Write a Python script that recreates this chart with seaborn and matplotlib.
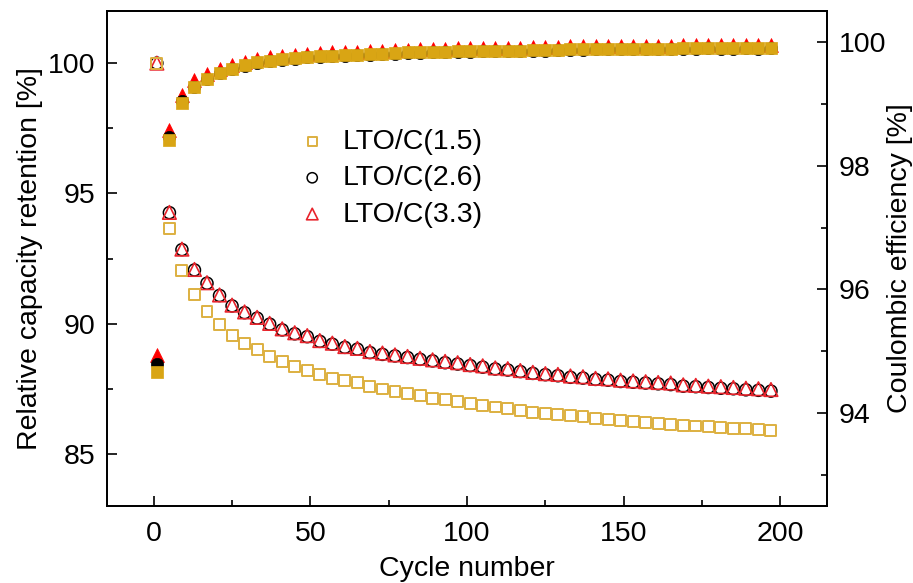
import numpy as np
import pandas as pd
import matplotlib
matplotlib.use("Agg")
import matplotlib.pyplot as plt
import seaborn as sns

# ---------------- data ----------------
cycles = list(range(1, 198, 4))  # 50 cycles: 1, 5, ..., 197

labels = ["LTO/C(1.5)", "LTO/C(2.6)", "LTO/C(3.3)"]

ret_15 = [100.0, 93.66, 92.03, 91.12, 90.48, 89.97, 89.56, 89.24, 88.99, 88.73,
          88.54, 88.35, 88.19, 88.03, 87.88, 87.82, 87.74, 87.57, 87.49, 87.40,
          87.32, 87.23, 87.14, 87.07, 87.00, 86.92, 86.85, 86.80, 86.74, 86.68,
          86.60, 86.56, 86.52, 86.46, 86.42, 86.36, 86.33, 86.29, 86.26, 86.22,
          86.16, 86.14, 86.09, 86.07, 86.04, 86.02, 85.99, 85.96, 85.92, 85.89]

ret_26 = [100.0, 94.26, 92.84, 92.06, 91.55, 91.08, 90.68, 90.42, 90.21, 89.98,
          89.76, 89.61, 89.50, 89.32, 89.21, 89.09, 89.02, 88.89, 88.82, 88.76,
          88.70, 88.63, 88.57, 88.50, 88.45, 88.39, 88.33, 88.26, 88.22, 88.16,
          88.09, 88.04, 88.00, 87.94, 87.91, 87.86, 87.83, 87.78, 87.75, 87.72,
          87.69, 87.66, 87.60, 87.58, 87.55, 87.52, 87.50, 87.46, 87.44, 87.41]

ret_33 = [100.0, 94.27, 92.86, 92.08, 91.57, 91.10, 90.71, 90.45, 90.24, 90.01,
          89.80, 89.65, 89.54, 89.35, 89.25, 89.12, 89.05, 88.93, 88.87, 88.80,
          88.74, 88.67, 88.61, 88.55, 88.50, 88.43, 88.38, 88.30, 88.27, 88.20,
          88.13, 88.08, 88.05, 87.99, 87.96, 87.90, 87.88, 87.83, 87.80, 87.77,
          87.74, 87.72, 87.65, 87.63, 87.60, 87.58, 87.55, 87.52, 87.50, 87.47]

ce_15 = [94.67, 98.42, 99.01, 99.27, 99.40, 99.50, 99.57, 99.62, 99.67, 99.70,
         99.72, 99.74, 99.76, 99.77, 99.78, 99.79, 99.79, 99.80, 99.81, 99.82,
         99.83, 99.83, 99.84, 99.84, 99.85, 99.85, 99.85, 99.86, 99.86, 99.86,
         99.87, 99.87, 99.87, 99.88, 99.88, 99.88, 99.88, 99.89, 99.89, 99.89,
         99.89, 99.89, 99.90, 99.90, 99.90, 99.90, 99.90, 99.90, 99.90, 99.90]

ce_26 = [94.80, 98.47, 99.04, 99.28, 99.40, 99.50, 99.56, 99.61, 99.66, 99.69,
         99.71, 99.73, 99.75, 99.76, 99.77, 99.78, 99.79, 99.79, 99.80, 99.81,
         99.82, 99.82, 99.83, 99.84, 99.84, 99.84, 99.85, 99.85, 99.85, 99.86,
         99.86, 99.86, 99.87, 99.87, 99.87, 99.88, 99.88, 99.88, 99.88, 99.89,
         99.89, 99.89, 99.89, 99.89, 99.90, 99.89, 99.89, 99.90, 99.89, 99.90]

ce_33 = [94.94, 98.58, 99.14, 99.39, 99.49, 99.57, 99.63, 99.68, 99.72, 99.75,
         99.77, 99.79, 99.81, 99.82, 99.83, 99.84, 99.84, 99.85, 99.86, 99.87,
         99.87, 99.88, 99.89, 99.89, 99.90, 99.90, 99.90, 99.91, 99.91, 99.91,
         99.92, 99.92, 99.92, 99.93, 99.93, 99.93, 99.93, 99.94, 99.94, 99.94,
         99.94, 99.94, 99.95, 99.95, 99.95, 99.95, 99.95, 99.95, 99.95, 99.95]

x_ticks = [0, 50, 100, 150, 200]
left_ticks = [85, 90, 95, 100]
right_ticks = [94, 96, 98, 100]

# ---------------- style ----------------
sns.set_theme(style="ticks")
plt.rcParams["font.family"] = ["Liberation Sans", "DejaVu Sans"]
plt.rcParams["text.color"] = "black"
plt.rcParams["axes.labelcolor"] = "black"
plt.rcParams["xtick.color"] = "black"
plt.rcParams["ytick.color"] = "black"
FS = 20.5

gold_edge = "#DDB040"
gold_fill = "#D9A514"
red_edge = "#E8232B"
red_fill = "#FF0000"
black = "#000000"

fig = plt.figure(figsize=(9.13, 5.83), dpi=100)
ax = fig.add_axes([0.1169, 0.1321, 0.7893, 0.849])
ax2 = ax.twinx()

df_ret = pd.DataFrame({"cycle": cycles, "r15": ret_15, "r26": ret_26, "r33": ret_33})
df_ce = pd.DataFrame({"cycle": cycles, "c15": ce_15, "c26": ce_26, "c33": ce_33})

# capacity retention (hollow markers, left axis)
sns.scatterplot(data=df_ret, x="cycle", y="r26", ax=ax, marker="o", s=75,
                facecolors="none", edgecolor=black, linewidth=1.1, zorder=3)
sns.scatterplot(data=df_ret, x="cycle", y="r33", ax=ax, marker="^", s=95,
                facecolors="none", edgecolor=red_edge, linewidth=1.2, zorder=4)
sns.scatterplot(data=df_ret, x="cycle", y="r15", ax=ax, marker="s", s=62,
                facecolors="none", edgecolor=gold_edge, linewidth=1.4, zorder=5)

# coulombic efficiency (filled markers, right axis)
sns.scatterplot(data=df_ce, x="cycle", y="c33", ax=ax2, marker="^", s=100,
                color=red_fill, edgecolor=red_fill, linewidth=0.5, zorder=3)
sns.scatterplot(data=df_ce, x="cycle", y="c26", ax=ax2, marker="o", s=78,
                color=black, edgecolor=black, linewidth=0.5, zorder=4)
sns.scatterplot(data=df_ce, x="cycle", y="c15", ax=ax2, marker="s", s=82,
                color=gold_fill, edgecolor=gold_fill, linewidth=0.5, zorder=5)

# axes limits and ticks
ax.set_xlim(-15, 215)
ax.set_ylim(83, 102)
ax2.set_ylim(92.5, 100.5)

ax.set_xticks(x_ticks)
ax.set_xticks([25, 75, 125, 175], minor=True)
ax.set_yticks(left_ticks)
ax.set_yticks([87.5, 92.5, 97.5], minor=True)
ax2.set_yticks(right_ticks)
ax2.set_yticks([93, 95, 97, 99], minor=True)

ax.set_xticklabels([str(v) for v in x_ticks], fontsize=FS)
ax.set_yticklabels([str(v) for v in left_ticks], fontsize=FS)
ax2.set_yticklabels([str(v) for v in right_ticks], fontsize=FS)

ax.tick_params(axis="both", which="both", direction="in", top=False, right=False,
               color="black", width=1.2, labelcolor="black")
ax.tick_params(axis="both", which="major", length=7, pad=8)
ax.tick_params(axis="both", which="minor", length=4.5)
ax.tick_params(axis="x", which="major", pad=11)
ax2.tick_params(axis="y", which="both", direction="in", left=False, right=True,
                color="black", width=1.2, labelcolor="black")
ax2.tick_params(axis="y", which="major", length=7, pad=8)
ax2.tick_params(axis="y", which="minor", length=4.5)

for a in (ax, ax2):
    for sp in a.spines.values():
        sp.set_color("black")
        sp.set_linewidth(1.3)
        sp.set_visible(True)

ax.set_xlabel("Cycle number", fontsize=FS, labelpad=6, color="black")
ax.set_ylabel("Relative capacity retention [%]", fontsize=FS, labelpad=4, color="black")
ax2.set_ylabel("Coulombic efficiency [%]", fontsize=FS, labelpad=1, color="black")

# legend for hollow markers only
handles = ax.collections[:3]
order = [2, 0, 1]
leg = ax.legend([handles[i] for i in order], labels, loc="upper left",
                bbox_to_anchor=(298 / 913, 1 - 129 / 583), bbox_transform=fig.transFigure,
                frameon=False, fontsize=FS, handlelength=1.0, handletextpad=0.55,
                labelspacing=0.36, borderpad=0, borderaxespad=0, markerscale=0.85)
for t in leg.get_texts():
    t.set_color("black")

fig.savefig("out.png", dpi=100)
